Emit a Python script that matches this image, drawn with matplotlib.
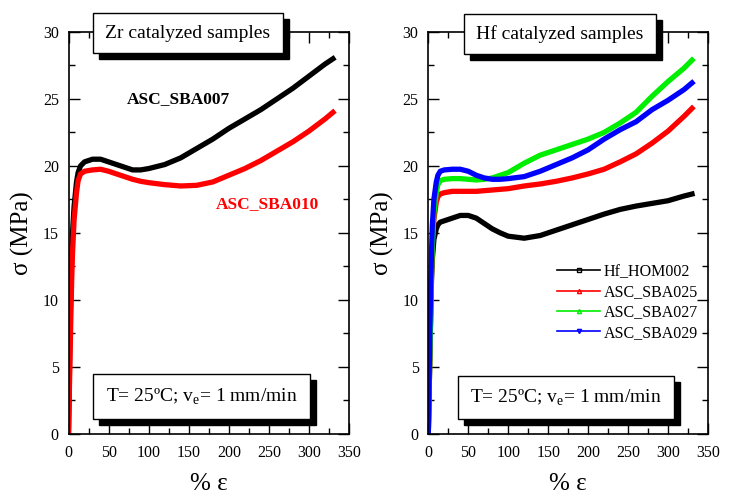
import matplotlib
matplotlib.use('Agg')
import matplotlib.pyplot as plt
from matplotlib.patches import Rectangle
from matplotlib.ticker import MultipleLocator

plt.rcParams['font.family'] = ['Liberation Serif', 'DejaVu Serif']
plt.rcParams['mathtext.fontset'] = 'custom'
plt.rcParams['mathtext.rm'] = 'Liberation Serif'

# Zr catalyzed samples: strain (%) vs stress (MPa)
zr_strain = [0, 1, 2, 3, 4, 5, 7, 10, 12, 15, 20, 30, 40, 50, 60, 70, 80, 90, 100, 120,
             140, 160, 180, 200, 220, 240, 260, 280, 300, 320, 330]
sba007 = [0, 4, 8, 11, 13.5, 15, 17, 18.8, 19.5, 20.0, 20.3, 20.5, 20.5, 20.3, 20.1, 19.9,
          19.7, 19.7, 19.8, 20.1, 20.6, 21.3, 22.0, 22.8, 23.5, 24.2, 25.0, 25.8, 26.7, 27.6, 28.0]
sba010 = [0, 3, 6, 9, 11.5, 13.5, 16, 18, 18.9, 19.4, 19.6, 19.7, 19.75, 19.6, 19.4, 19.2,
          19.0, 18.85, 18.75, 18.6, 18.5, 18.55, 18.8, 19.3, 19.8, 20.4, 21.1, 21.8, 22.6, 23.5, 24.0]

# Hf catalyzed samples
hf_strain = [0, 1, 2, 3, 4, 5, 7, 10, 12, 15, 20, 30, 40, 50, 60, 70, 80, 90, 100, 120,
             140, 160, 180, 200, 220, 240, 260, 280, 300, 320, 330]
hom002 = [0, 3, 6, 9, 11.5, 13, 14.5, 15.3, 15.6, 15.8, 15.9, 16.1, 16.3, 16.3, 16.1, 15.7,
          15.3, 15.0, 14.75, 14.6, 14.8, 15.2, 15.6, 16.0, 16.4, 16.75, 17.0, 17.2, 17.4, 17.75, 17.9]
sba025 = [0, 3, 6, 9, 12, 14, 16, 17.3, 17.7, 17.9, 18.0, 18.1, 18.1, 18.1, 18.1, 18.15,
          18.2, 18.25, 18.3, 18.5, 18.65, 18.85, 19.1, 19.4, 19.75, 20.3, 20.9, 21.7, 22.6, 23.7, 24.3]
sba027 = [0, 3, 6, 9, 12, 14, 16.5, 18.0, 18.6, 18.9, 19.0, 19.05, 19.05, 19.0, 18.95, 19.0,
          19.1, 19.3, 19.5, 20.2, 20.8, 21.2, 21.6, 22.0, 22.5, 23.2, 24.0, 25.2, 26.3, 27.3, 27.9]
sba029 = [0, 4, 8, 11, 13.5, 15.5, 17.5, 18.8, 19.3, 19.6, 19.7, 19.75, 19.75, 19.6, 19.3, 19.1,
          19.0, 19.0, 19.05, 19.2, 19.6, 20.1, 20.6, 21.2, 22.0, 22.7, 23.3, 24.2, 24.9, 25.7, 26.2]

W, H = 734, 501
fig = plt.figure(figsize=(W / 100, H / 100), dpi=100)

def px_box(x0, y0, x1, y1):
    # pixel box (top-left origin) -> figure fraction rect
    return x0 / W, 1 - y1 / H, (x1 - x0) / W, (y1 - y0) / H

ax1 = fig.add_axes(px_box(68.5, 32, 349, 433.7))
ax2 = fig.add_axes(px_box(428.3, 32, 708, 433.7))

ax1.plot(zr_strain, sba007, color='black', lw=3.8)
ax1.plot(zr_strain, sba010, color='#ff0000', lw=3.8)
ax1.text(137, 25.0, 'ASC_SBA007', fontsize=12.5, fontweight='bold', ha='center', va='center')
ax1.text(248, 17.15, 'ASC_SBA010', fontsize=12.5, fontweight='bold', color='#ff0000',
         ha='center', va='center')

ax2.plot(hf_strain, hom002, color='black', lw=3.8)
ax2.plot(hf_strain, sba025, color='#ff0000', lw=3.8)
ax2.plot(hf_strain, sba027, color='#00ee00', lw=3.8)
ax2.plot(hf_strain, sba029, color='#0000ff', lw=3.8)

# legend with thin lines and small markers
handles = [plt.Line2D([], [], color=c, lw=1.2, marker=m, ms=3, mfc='none')
           for c, m in [('black', 's'), ('#ff0000', '^'), ('#00ee00', '^'), ('#0000ff', 'v')]]
ax2.legend(handles, ['Hf_HOM002', 'ASC_SBA025', 'ASC_SBA027', 'ASC_SBA029'],
           loc='upper left', bbox_to_anchor=(0.46, 0.4225), frameon=False, fontsize=11.5,
           handlelength=2.7, handletextpad=0.25, labelspacing=0.27, borderaxespad=0,
           borderpad=0)

for ax in (ax1, ax2):
    ax.set_xlim(0, 350)
    ax.set_ylim(0, 30)
    ax.xaxis.set_major_locator(MultipleLocator(50))
    ax.xaxis.set_minor_locator(MultipleLocator(25))
    ax.yaxis.set_major_locator(MultipleLocator(5))
    ax.yaxis.set_minor_locator(MultipleLocator(2.5))
    ax.tick_params(which='both', direction='in', top=True, right=True, labelsize=11.5, width=1)
    ax.tick_params(which='major', length=8)
    ax.tick_params(axis='x', which='major', pad=8)
    ax.tick_params(axis='y', which='major', pad=7)
    ax.tick_params(which='minor', length=4)
    for s in ax.spines.values():
        s.set_linewidth(1.2)
    ax.set_xlabel('% \u03b5', fontsize=18, labelpad=9)
    ax.set_ylabel('\u03c3 (MPa)', fontsize=18, labelpad=6)

def shadow_box(x0, y0, x1, y1, text, fs=14):
    off = 6
    fig.add_artist(Rectangle(px_box(x0 + off, y0 + off, x1 + off, y1 + off)[:2],
                             (x1 - x0) / W, (y1 - y0) / H, transform=fig.transFigure,
                             facecolor='black', edgecolor='black', zorder=5))
    fig.add_artist(Rectangle(px_box(x0, y0, x1, y1)[:2], (x1 - x0) / W, (y1 - y0) / H,
                             transform=fig.transFigure, facecolor='white',
                             edgecolor='black', lw=1, zorder=6))
    fig.text((x0 + x1) / 2 / W, 1 - (y0 + y1) / 2 / H, text, fontsize=fs,
             ha='center', va='center', zorder=7)

shadow_box(93, 13, 283, 53, 'Zr catalyzed samples')
shadow_box(464, 14, 656, 54, 'Hf catalyzed samples')
cond = 'T= 25\u00baC; v$_\\mathrm{e}$= 1 mm/min'
shadow_box(93, 374, 310, 419, cond)
shadow_box(458, 376, 674, 419, cond)

fig.savefig('out.png', dpi=100)
